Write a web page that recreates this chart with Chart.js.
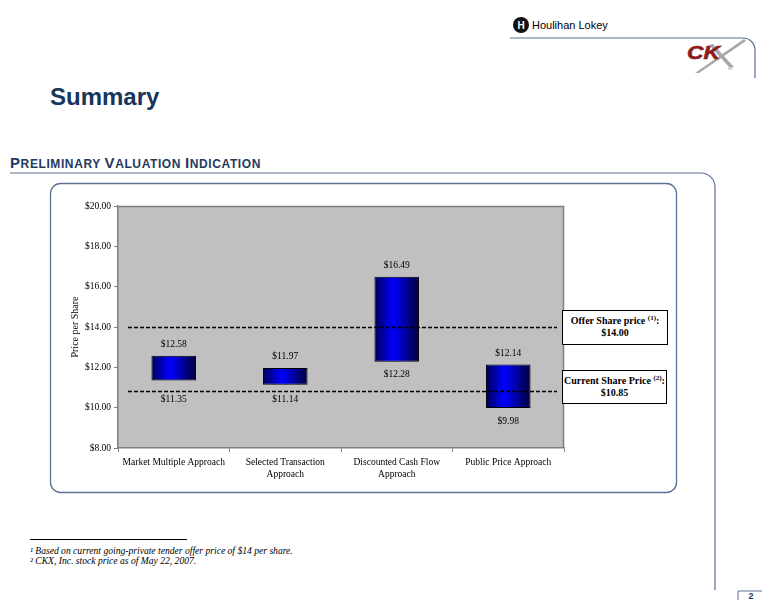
<!DOCTYPE html>
<html><head><meta charset="utf-8">
<script src="https://cdn.jsdelivr.net/npm/chart.js@4.4.0/dist/chart.umd.min.js"></script>
<style>
html,body{margin:0;padding:0;background:#fff;}
#page{position:relative;width:768px;height:607px;overflow:hidden;}
#deco{position:absolute;left:0;top:0;}
#c{position:absolute;left:0;top:0;}
.box{position:absolute;border:1px solid #000;background:#fff;font-family:"Liberation Serif",serif;font-weight:bold;font-size:10px;text-align:center;line-height:12px;box-sizing:border-box;padding-top:4px;color:#000;}
.box sup{font-size:7px;line-height:0;vertical-align:4px;}
</style>
</head>
<body>
<div id="page">
<svg id="deco" width="768" height="607" xmlns="http://www.w3.org/2000/svg">
  <!-- header -->
  <circle cx="521" cy="25" r="8" fill="#111"/>
  <text x="521" y="29" text-anchor="middle" font-family="Liberation Sans" font-weight="bold" font-size="10" fill="#fff">H</text>
  <text x="532" y="29" font-family="Liberation Sans" font-size="11" fill="#000">Houlihan Lokey</text>
  <path d="M510,38 H743 A12,12 0 0 1 755,50 V78" fill="none" stroke="#5b7196" stroke-width="1.2"/>
  <!-- CKX logo -->
  <path d="M695,73 L744,39 L746,41 L699,73 Z" fill="#a8a8a8"/>
  <path d="M713,44 L734,67 L730,68 L709,45 Z" fill="#a8a8a8"/>
  <text x="687" y="59" font-family="Liberation Sans" font-weight="bold" font-style="italic" font-size="19" textLength="33" lengthAdjust="spacingAndGlyphs" fill="#8c1c1c" stroke="#8c1c1c" stroke-width="0.6">CK</text>
  <text x="728" y="70" font-family="Liberation Sans" font-size="3" fill="#888">Inc.</text>
  <!-- title -->
  <text x="50" y="105" font-family="Liberation Sans" font-weight="bold" font-size="24" fill="#17365d">Summary</text>
  <!-- section heading -->
  <text x="10" y="168" font-family="Liberation Sans" font-weight="bold" fill="#1f3a5f" letter-spacing="0.6"><tspan font-size="15">P</tspan><tspan font-size="12">RELIMINARY </tspan><tspan font-size="15">V</tspan><tspan font-size="12">ALUATION </tspan><tspan font-size="15">I</tspan><tspan font-size="12">NDICATION</tspan></text>
  <path d="M10,173 H701 A14,14 0 0 1 715,187 V590" fill="none" stroke="#5b7196" stroke-width="1.2"/>
  <!-- chart frame -->
  <rect x="50.5" y="183.5" width="626" height="309" rx="10" ry="10" fill="#fff" stroke="#5b7196" stroke-width="1.3"/>
  <!-- footnotes -->
  <path d="M30,539.5 H187" stroke="#000" stroke-width="1"/>
  <text x="30" y="554" font-family="Liberation Serif" font-style="italic" font-size="9.6" fill="#000">¹ Based on current going-private tender offer price of $14 per share.</text>
  <text x="30" y="564" font-family="Liberation Serif" font-style="italic" font-size="9.6" fill="#000">² CKX, Inc. stock price as of May 22, 2007.</text>
  <!-- page number -->
  <path d="M738,600 V591 H762" fill="none" stroke="#5b7196" stroke-width="1"/>
  <text x="751" y="599" text-anchor="middle" font-family="Liberation Sans" font-weight="bold" font-size="9" fill="#17365d">2</text>
</svg>
<canvas id="c" width="768" height="607"></canvas>
<div class="box" style="left:562px;top:310px;width:106px;height:35px;">Offer Share price <sup>(1)</sup>:<br>$14.00</div>
<div class="box" style="left:562px;top:370px;width:105px;height:34px;">Current Share Price <sup>(2)</sup>:<br>$10.85</div>
</div>
<script>
const categories = [['Market Multiple Approach'], ['Selected Transaction', 'Approach'], ['Discounted Cash Flow', 'Approach'], ['Public Price Approach']];
const lowValues = [11.35, 11.14, 12.28, 9.98];
const highValues = [12.58, 11.97, 16.49, 12.14];
const offerPrice = 14.00;
const currentPrice = 10.85;
const yTicks = [8, 10, 12, 14, 16, 18, 20];

const BAR_PCT = 0.4;
const serif = 'Liberation Serif';

function barGradient(c) {
  const chart = c.chart;
  const a = chart.chartArea;
  if (!a) return '#0000ff';
  const cx = chart.scales.x.getPixelForValue(c.dataIndex);
  const w = (a.right - a.left) / categories.length * BAR_PCT;
  const g = chart.ctx.createLinearGradient(cx - w / 2, 0, cx + w / 2, 0);
  g.addColorStop(0, '#000058');
  g.addColorStop(0.42, '#0000ff');
  g.addColorStop(1, '#000038');
  return g;
}

const fmt = v => '$' + v.toFixed(2);

const decorPlugin = {
  id: 'decor',
  beforeDraw(chart) {
    const {ctx, chartArea: a} = chart;
    ctx.save();
    ctx.fillStyle = '#c0c0c0';
    ctx.fillRect(a.left, a.top, a.right - a.left, a.bottom - a.top);
    ctx.restore();
  },
  beforeDatasetsDraw(chart) {
    const {ctx, chartArea: a} = chart;
    ctx.save();
    ctx.strokeStyle = '#808080';
    ctx.lineWidth = 1.5;
    ctx.beginPath();
    ctx.moveTo(a.left, a.top + 0.5);
    ctx.lineTo(a.right - 0.5, a.top + 0.5);
    ctx.lineTo(a.right - 0.5, a.bottom);
    ctx.stroke();
    ctx.restore();
  },
  afterDatasetsDraw(chart) {
    const {ctx, chartArea: a} = chart;
    const ys = chart.scales.y;
    const lineYs = [offerPrice, currentPrice].map(v => Math.round(ys.getPixelForValue(v)) + 0.5);
    ctx.save();
    // reference lines
    ctx.strokeStyle = '#000';
    ctx.lineWidth = 1.6;
    ctx.setLineDash([4, 2]);
    lineYs.forEach(y => {
      ctx.beginPath();
      ctx.moveTo(a.left + 10, y);
      ctx.lineTo(a.right - 7, y);
      ctx.stroke();
    });
    ctx.setLineDash([]);
    // value labels
    ctx.fillStyle = '#000';
    ctx.font = '9.5px "' + serif + '"';
    ctx.textAlign = 'center';
    ctx.textBaseline = 'middle';
    const meta = chart.getDatasetMeta(0);
    meta.data.forEach((bar, i) => {
      const top = ys.getPixelForValue(highValues[i]);
      const bot = ys.getPixelForValue(lowValues[i]);
      let ly = bot + 13;
      lineYs.forEach(l => { if (Math.abs(ly - l) < 7) ly = l + 8; });
      ctx.fillText(fmt(highValues[i]), bar.x, top - 11);
      ctx.fillText(fmt(lowValues[i]), bar.x, ly);
    });
    ctx.restore();
  }
};

new Chart(document.getElementById('c'), {
  type: 'bar',
  data: {
    labels: categories,
    datasets: [{
      data: lowValues.map((l, i) => [l, highValues[i]]),
      backgroundColor: barGradient,
      borderColor: '#000',
      borderWidth: 1,
      borderSkipped: false,
      barPercentage: BAR_PCT,
      categoryPercentage: 1
    }]
  },
  options: {
    responsive: false,
    animation: false,
    devicePixelRatio: 1,
    layout: {padding: {left: 69, right: 204, top: 206, bottom: 119}},
    plugins: {legend: {display: false}, tooltip: {enabled: false}},
    scales: {
      x: {
        grid: {display: true, drawOnChartArea: false, drawTicks: true, tickLength: 4, color: '#808080', offset: true},
        border: {display: true, color: '#808080', width: 1.5},
        ticks: {font: {family: serif, size: 9.5, lineHeight: 1.25}, color: '#000', padding: 5, maxRotation: 0, autoSkip: false},
        afterFit: s => { s.height = 40; }
      },
      y: {
        min: 8, max: 20,
        afterBuildTicks: s => { s.ticks = yTicks.map(v => ({value: v})); },
        ticks: {callback: v => fmt(v), font: {family: serif, size: 9.5}, color: '#000', padding: 3},
        grid: {display: true, drawOnChartArea: false, drawTicks: true, tickLength: 4, color: '#808080'},
        border: {display: true, color: '#808080', width: 1.5},
        title: {display: true, text: 'Price per Share', font: {family: serif, size: 10}, color: '#000', padding: 0},
        afterFit: s => { s.width = 49; }
      }
    }
  },
  plugins: [decorPlugin]
});
</script>
</body></html>
